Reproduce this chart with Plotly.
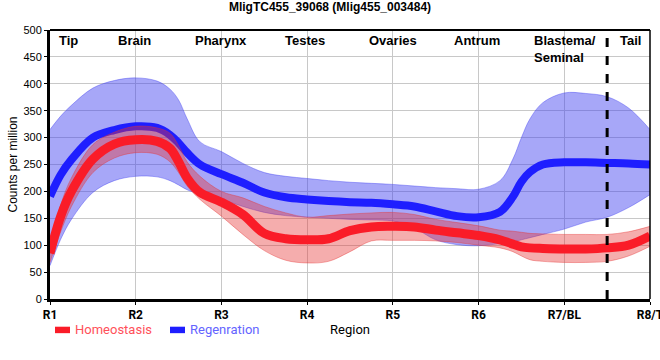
import plotly.graph_objects as go

# ---- data ----
x_pos = [1, 1.125, 1.25, 1.5, 1.75, 2, 2.25, 2.4, 2.5, 2.6, 2.75, 3, 3.25, 3.5, 3.75,
         4, 4.25, 4.5, 4.75, 5, 5.25, 5.5, 5.75, 6, 6.25, 6.4, 6.5, 6.6, 6.75, 7,
         7.25, 7.5, 7.75, 8]

regen_mean = [191, 231, 259, 300, 314, 321, 318, 305, 290, 272, 250, 232, 216, 198, 189,
              185, 182, 180, 179, 176, 172, 163, 154, 152, 162, 190, 218, 236, 250, 254,
              254, 253, 252, 250]
regen_upper = [315, 340, 360, 392, 406, 411, 405, 390, 370, 335, 292, 274, 252, 235, 228,
               224, 220, 217, 215, 213, 210, 207, 205, 204, 220, 260, 300, 335, 365, 383,
               382, 376, 355, 315]
regen_lower = [62, 111, 148, 198, 220, 228, 227, 220, 212, 203, 195, 185, 172, 161, 155,
               152, 150, 148, 147, 145, 132, 110, 101, 99, 103, 106, 110, 114, 120, 130,
               143, 152, 170, 194]

homeo_mean = [85, 154, 200, 260, 288, 296, 293, 280, 255, 225, 198, 180, 157, 122, 112,
              110, 112, 127, 134, 135, 134, 128, 123, 118, 110, 102, 97, 95, 94, 93,
              93, 95, 100, 117]
homeo_upper = [95, 175, 225, 287, 310, 321, 318, 308, 285, 255, 228, 200, 188, 172, 160,
               152, 155, 158, 160, 161, 157, 148, 142, 136, 128, 126, 124, 122, 121, 120,
               120, 120, 125, 135]
homeo_lower = [68, 125, 172, 235, 262, 272, 269, 255, 235, 210, 185, 154, 120, 90, 72,
               67, 70, 88, 108, 109, 109, 108, 105, 100, 95, 88, 80, 73, 70, 68,
               68, 70, 80, 98]

tick_vals = [1, 2, 3, 4, 5, 6, 7, 8]
tick_text = ["R1", "R2", "R3", "R4", "R5", "R6", "R7/BL", "R8/T"]

region_names = ["Tip", "Brain", "Pharynx", "Testes", "Ovaries", "Antrum",
                "Blastema/<br>Seminal", "Tail"]
region_x = [1.21, 1.98, 2.99, 3.97, 5.0, 5.98, 7.01, 7.77]

series_names = ["Homeostasis", "Regenration"]
title_text = "MligTC455_39068 (Mlig455_003484)"

BLUE = "rgb(30,30,255)"
RED = "rgb(250,28,40)"
BLUE_BAND = "rgba(60,60,240,0.45)"
RED_BAND = "rgba(230,50,50,0.4)"

fig = go.Figure()

# regeneration band + line
fig.add_trace(go.Scatter(x=x_pos, y=regen_lower, mode="lines",
                         line=dict(color="rgba(60,60,240,0.5)", width=0.8, shape="spline"),
                         showlegend=False, hoverinfo="skip"))
fig.add_trace(go.Scatter(x=x_pos, y=regen_upper, mode="lines", fill="tonexty",
                         fillcolor=BLUE_BAND,
                         line=dict(color="rgba(60,60,240,0.5)", width=0.8, shape="spline"),
                         showlegend=False, hoverinfo="skip"))
fig.add_trace(go.Scatter(x=x_pos, y=regen_mean, mode="lines",
                         line=dict(color=BLUE, width=8, shape="spline"),
                         name=series_names[1], showlegend=False))

# homeostasis band + line
fig.add_trace(go.Scatter(x=x_pos, y=homeo_lower, mode="lines",
                         line=dict(color="rgba(230,50,50,0.5)", width=0.8, shape="spline"),
                         showlegend=False, hoverinfo="skip"))
fig.add_trace(go.Scatter(x=x_pos, y=homeo_upper, mode="lines", fill="tonexty",
                         fillcolor=RED_BAND,
                         line=dict(color="rgba(230,50,50,0.5)", width=0.8, shape="spline"),
                         showlegend=False, hoverinfo="skip"))
fig.add_trace(go.Scatter(x=x_pos, y=homeo_mean, mode="lines",
                         line=dict(color=RED, width=9, shape="spline"),
                         name=series_names[0], showlegend=False))

annotations = []
for name, xv in zip(region_names, region_x):
    annotations.append(dict(x=xv, y=1.0, xref="x", yref="paper", text="<b>%s</b>" % name,
                            showarrow=False, xanchor="center", yanchor="top", align="left",
                            yshift=-1,
                            font=dict(family="Liberation Sans, Arial", size=13, color="black")))

fig.update_layout(
    width=660, height=360,
    margin=dict(l=50, r=10, t=30, b=61, autoexpand=False),
    paper_bgcolor="white", plot_bgcolor="white",
    title=dict(text="<b>%s</b>" % title_text, x=0.5, xanchor="center", y=0.992,
               yanchor="top", font=dict(family="Liberation Sans, Arial", size=12, color="black")),
    showlegend=False,
    xaxis=dict(range=[1, 8], tickvals=tick_vals, automargin=False,
               ticktext=["<b>%s</b>" % t for t in tick_text],
               ticklabeloverflow="allow",
               showgrid=True, gridcolor="rgb(200,200,200)", gridwidth=1,
               zeroline=False, showline=True, linecolor="black", linewidth=3,
               ticks="outside", ticklen=3, tickcolor="black",
               tickfont=dict(family="Roboto, Liberation Sans", size=12, color="black"),
               title=dict(text="Region", standoff=4,
                          font=dict(family="Roboto, Liberation Sans", size=13, color="black"))),
    yaxis=dict(range=[0, 500], dtick=50, automargin=False,
               showgrid=True, gridcolor="rgb(200,200,200)", gridwidth=1,
               zeroline=False, showline=True, linecolor="black", linewidth=3,
               ticks="outside", ticklen=3, tickcolor="black",
               tickfont=dict(family="Liberation Sans, Arial", size=11, color="black"),
               title=dict(text="Counts per million", standoff=4,
                          font=dict(family="Liberation Sans, Arial", size=12, color="black"))),
    annotations=annotations,
)

# top and right border
fig.add_shape(type="line", xref="paper", yref="paper", x0=0, x1=1, y0=1, y1=1,
              line=dict(color="black", width=2))
fig.add_shape(type="line", xref="paper", yref="paper", x0=1, x1=1, y0=0, y1=1,
              line=dict(color="black", width=1.5))
# dashed divider between R7 and R8
fig.add_shape(type="line", xref="x", yref="paper", x0=7.5, x1=7.5, y0=0, y1=1,
              line=dict(color="black", width=3, dash="dash"))

# manual legend below the plot
leg_y = -0.115
fig.add_shape(type="rect", xref="paper", yref="paper",
              x0=(55 - 50) / 600, x1=(70 - 50) / 600, y0=leg_y - 0.012, y1=leg_y + 0.012,
              fillcolor=RED, line=dict(width=0))
fig.add_shape(type="rect", xref="paper", yref="paper",
              x0=(170 - 50) / 600, x1=(185 - 50) / 600, y0=leg_y - 0.012, y1=leg_y + 0.012,
              fillcolor=BLUE, line=dict(width=0))
fig.add_annotation(x=(73 - 50) / 600, y=leg_y, xref="paper", yref="paper",
                   text=series_names[0], showarrow=False, xanchor="left", yanchor="middle",
                   font=dict(family="Roboto, Liberation Sans", size=13, color="rgb(255,80,90)"))
fig.add_annotation(x=(188 - 50) / 600, y=leg_y, xref="paper", yref="paper",
                   text=series_names[1], showarrow=False, xanchor="left", yanchor="middle",
                   font=dict(family="Roboto, Liberation Sans", size=13, color="rgb(100,100,255)"))

fig.write_html("out.html", config={"displayModeBar": False},
               post_script="document.body.style.margin='0px';")
